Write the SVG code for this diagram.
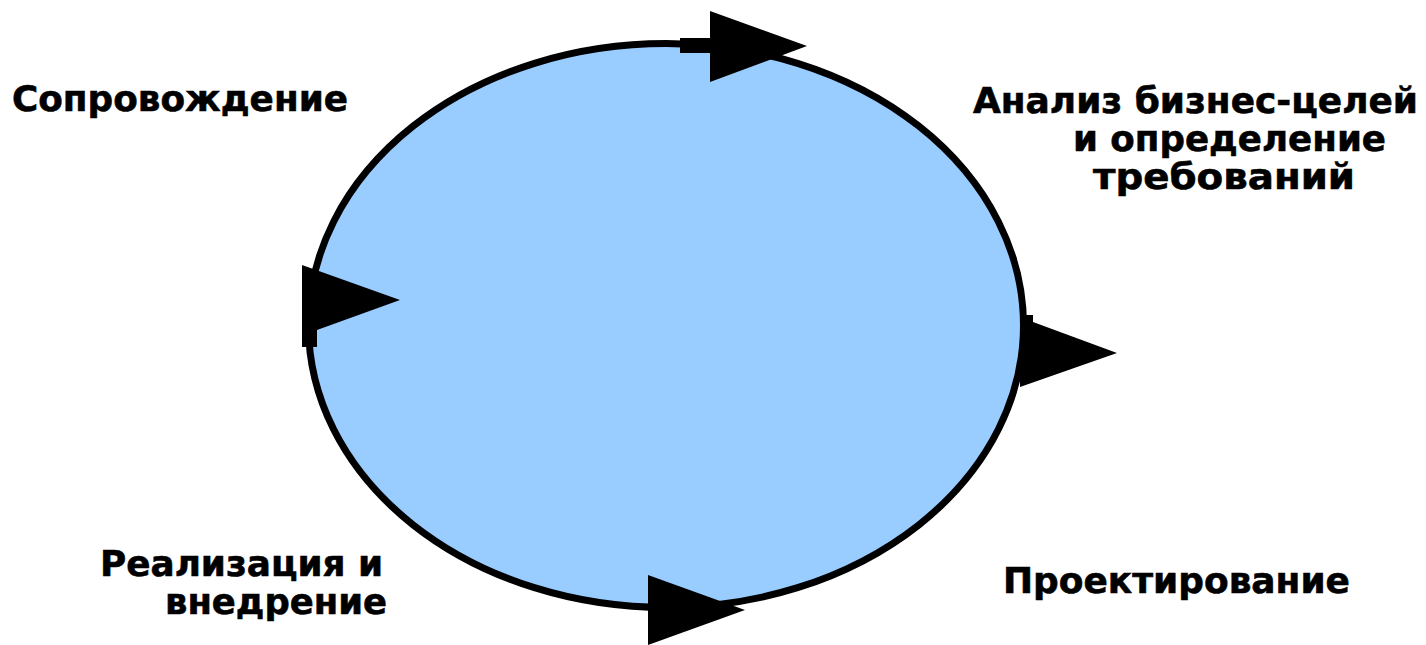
<svg xmlns="http://www.w3.org/2000/svg" width="1426" height="645" viewBox="0 0 1426 645">
  <style>
    .lbl { font-family: "DejaVu Sans", Verdana, "Liberation Sans", sans-serif; font-weight: bold; font-size: 36px; fill: #000; stroke: #000; stroke-width: 0.6; }
    .ring { fill: #99CCFF; stroke: #000; stroke-width: 7; }
    .head { fill: #000; stroke: none; }
  </style>
  <rect width="1426" height="645" fill="#FFFFFF"/>
  <g id="cycle">
    <ellipse class="ring" cx="666" cy="325.5" rx="357.5" ry="282"/>
  </g>
  <g id="connectors">
    <path class="head" d="M680,38 H710 V11 L807,46 L710,82 V53 H680 Z"/>
    <path class="head" d="M1020,315 H1033 V322 L1117,353 L1020,387 Z"/>
    <path class="head" d="M302,265 L400,300 L317,330 V347 H302 Z"/>
    <path class="head" d="M648,575 L745,610 L648,645 Z"/>
  </g>
  <g id="node-support">
    <text class="lbl" x="12" y="111" textLength="336" lengthAdjust="spacingAndGlyphs">Сопровождение</text>
  </g>
  <g id="node-analysis">
    <text class="lbl" x="973" y="113" textLength="445" lengthAdjust="spacingAndGlyphs">Анализ бизнес-целей</text>
    <text class="lbl" x="1073" y="151" textLength="313" lengthAdjust="spacingAndGlyphs">и определение</text>
    <text class="lbl" x="1093" y="189" textLength="262" lengthAdjust="spacingAndGlyphs">требований</text>
  </g>
  <g id="node-design">
    <text class="lbl" x="1003" y="593" textLength="347" lengthAdjust="spacingAndGlyphs">Проектирование</text>
  </g>
  <g id="node-implementation">
    <text class="lbl" x="100" y="576" textLength="283" lengthAdjust="spacingAndGlyphs">Реализация и</text>
    <text class="lbl" x="165" y="614" textLength="222" lengthAdjust="spacingAndGlyphs">внедрение</text>
  </g>
</svg>
